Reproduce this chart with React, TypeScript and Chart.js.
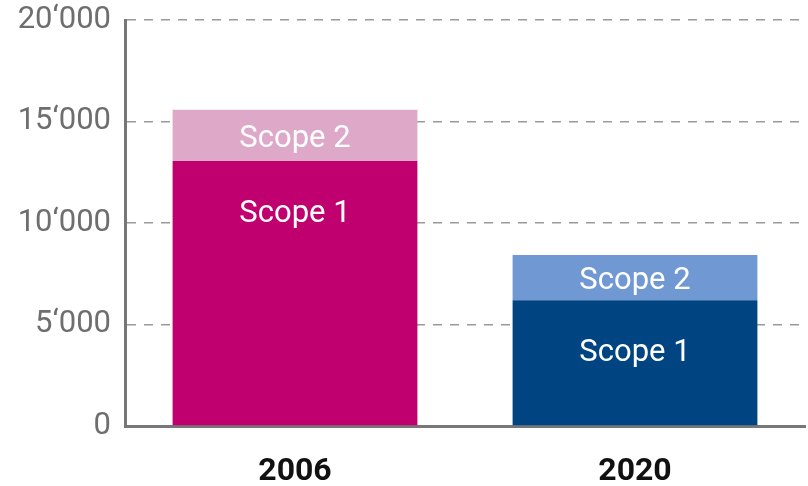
import React, { useEffect, useRef } from "react";
import { Chart, registerables } from "chart.js";

Chart.register(...registerables);

const categories = ["2006", "2020"];
const scope1Values = [13050, 6200];
const scope2Values = [2530, 2220];
const scope1Colors = ["#C1006F", "#004482"];
const scope2Colors = ["#DEA8C8", "#7099D3"];
const yTicks = [0, 5000, 10000, 15000, 20000];
const segmentLabels = ["Scope 1", "Scope 2"];

const fmt = (v: number) => {
  if (v === 0) return "0";
  const s = String(Math.round(v));
  return s.replace(/\B(?=(\d{3})+(?!\d))/g, "\u2018");
};

const labelPlugin = {
  id: "segLabels",
  afterDatasetsDraw(chart: any) {
    const ctx = chart.ctx;
    ctx.save();
    ctx.fillStyle = "#ffffff";
    ctx.font = "400 31px Roboto";
    ctx.textAlign = "center";
    ctx.textBaseline = "middle";
    chart.data.datasets.forEach((ds: any, di: number) => {
      const meta = chart.getDatasetMeta(di);
      meta.data.forEach((el: any) => {
        const top = Math.min(el.y, el.base);
        const bottom = Math.max(el.y, el.base);
        const y = di === 1 ? (top + bottom) / 2 + 4 : top + 53;
        ctx.fillText(segmentLabels[di], el.x, y);
      });
    });
    ctx.restore();
  },
};

export default function App() {
  const ref = useRef<HTMLCanvasElement>(null);
  useEffect(() => {
    if (!ref.current) return;
    const chart = new Chart(ref.current, {
      type: "bar",
      data: {
        labels: categories,
        datasets: [
          {
            label: segmentLabels[0],
            data: scope1Values,
            backgroundColor: scope1Colors,
            borderWidth: 0,
            barPercentage: 0.72,
            categoryPercentage: 1,
          },
          {
            label: segmentLabels[1],
            data: scope2Values,
            backgroundColor: scope2Colors,
            borderWidth: 0,
            barPercentage: 0.72,
            categoryPercentage: 1,
          },
        ],
      },
      options: {
        animation: false,
        responsive: false,
        maintainAspectRatio: false,
        layout: { padding: { top: 20, right: 3, left: 0, bottom: 0 } },
        plugins: { legend: { display: false }, tooltip: { enabled: false } },
        scales: {
          x: {
            stacked: true,
            grid: { display: false, drawTicks: false },
            border: { display: true, color: "#777777", width: 3 },
            ticks: {
              color: "#111111",
              font: { family: "Roboto", size: 32, weight: "bold" },
              padding: 27,
            },
            afterFit(scale: any) {
              scale.height = 60;
            },
          },
          y: {
            stacked: true,
            min: 0,
            max: 20000,
            afterBuildTicks(scale: any) {
              scale.ticks = yTicks.map((v) => ({ value: v }));
            },
            grid: {
              drawTicks: false,
              color: (c: any) => (c.tick && c.tick.value === 0 ? "rgba(0,0,0,0)" : "#9a9a9a"),
              lineWidth: 1.5,
            },
            border: { display: true, color: "#777777", width: 3, dash: [9, 8] },
            ticks: {
              color: "#6e6e6e",
              font: { family: "Roboto", size: 31 },
              padding: 14,
              callback: (v: any) => fmt(Number(v)),
            },
            afterFit(scale: any) {
              scale.width = 125;
              scale.paddingTop = 0;
              scale.paddingBottom = 0;
            },
          },
        },
      },
      plugins: [labelPlugin],
    } as any);
    return () => chart.destroy();
  }, []);
  return (
    <div style={{ position: "absolute", left: 0, top: 0, width: 808, height: 486 }}>
      <canvas ref={ref} width={808} height={486} style={{ width: 808, height: 486 }} />
    </div>
  );
}
